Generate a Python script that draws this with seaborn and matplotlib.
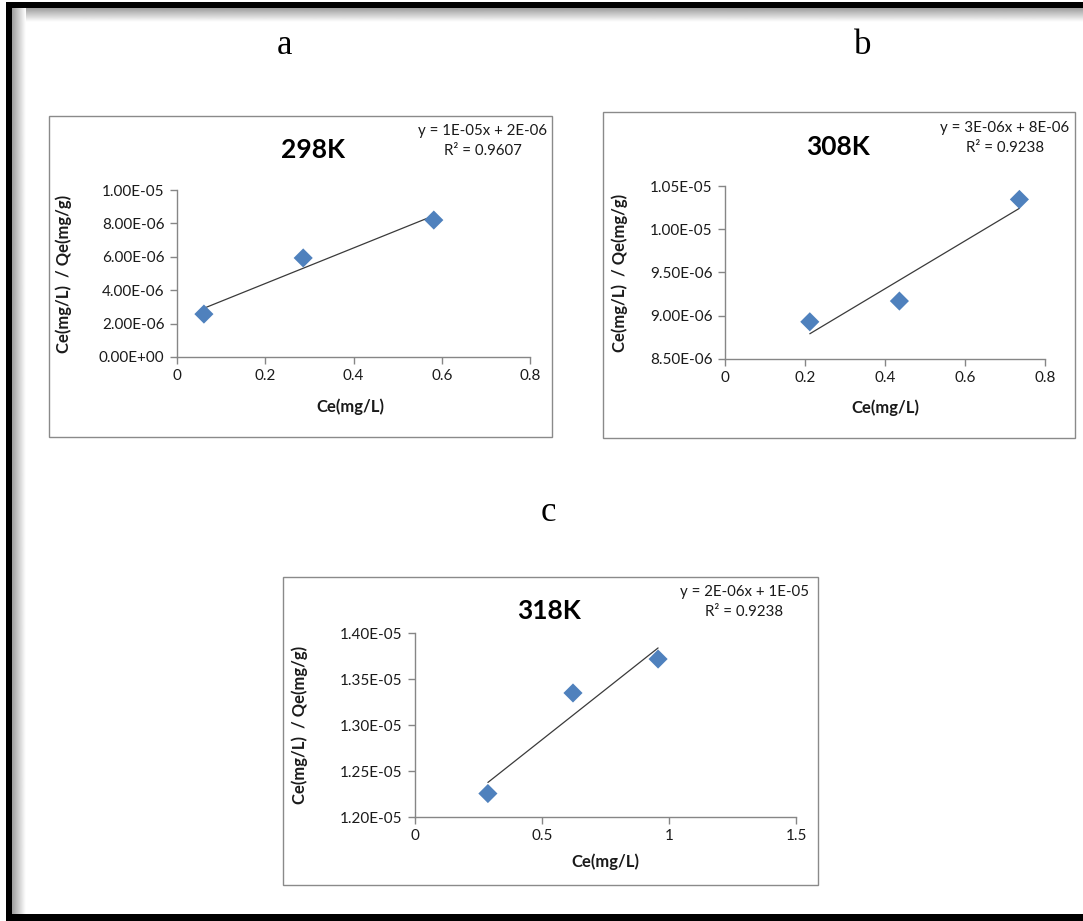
import numpy as np
import matplotlib
matplotlib.use("Agg")
import matplotlib.pyplot as plt
import seaborn as sns
from matplotlib.patches import Rectangle
from matplotlib.ticker import FuncFormatter, MultipleLocator

# Langmuir linearisation data at three temperatures
ce_298 = [0.061, 0.286, 0.582]
ratio_298 = [2.57e-6, 5.93e-6, 8.20e-6]

ce_308 = [0.212, 0.436, 0.736]
ratio_308 = [8.93e-6, 9.17e-6, 1.0345e-5]

ce_318 = [0.287, 0.622, 0.957]
ratio_318 = [1.2255e-5, 1.3348e-5, 1.3717e-5]

titles = ["298K", "308K", "318K"]
panel_letters = ["a", "b", "c"]
equations = ["y = 1E-05x + 2E-06", "y = 3E-06x + 8E-06", "y = 2E-06x + 1E-05"]
r_squared = ["R² = 0.9607", "R² = 0.9238", "R² = 0.9238"]
x_label = "Ce(mg/L)"
y_label = "Ce(mg/L)  / Qe(mg/g)"

W, H = 1083, 921
sns.set_theme(style="white")
plt.rcParams["font.family"] = ["Lato", "DejaVu Sans"]

fig = plt.figure(figsize=(W / 100, H / 100), dpi=100)
fig.patch.set_facecolor("white")


def px_axes(l, t, r, b, **kw):
    return fig.add_axes([l / W, 1 - b / H, (r - l) / W, (b - t) / H], **kw)


def ftext(x, y, s, **kw):
    return fig.text(x / W, 1 - y / H, s, **kw)


# page frame with soft inner shadow
bg = px_axes(0, 0, W, H, zorder=-5)
grad_top = np.linspace(0.62, 1.0, 40).reshape(-1, 1)
bg.imshow(grad_top, cmap="gray", vmin=0, vmax=1, extent=(12, W, 22, 8), aspect="auto")
grad_left = np.linspace(0.62, 1.0, 40).reshape(1, -1)
bg.imshow(grad_left, cmap="gray", vmin=0, vmax=1, extent=(12, 26, 914, 8), aspect="auto")
bg.add_patch(Rectangle((6, 2), W, 6, color="black", lw=0))
bg.add_patch(Rectangle((6, 2), 6, 919, color="black", lw=0))
bg.add_patch(Rectangle((6, 914), W, 8, color="black", lw=0))
bg.set_xlim(0, W)
bg.set_ylim(H, 0)
bg.axis("off")

panels = [
    dict(x=ce_298, y=ratio_298, box=(49, 116, 552, 437), ax=(177, 190, 530, 357),
         xlim=(0, 0.8), xstep=0.2, ylim=(0, 1.0e-5), ystep=2e-6,
         title_xy=(313, 150), eq_xy=(483, 130), xl_xy=(350, 407), yl_x=64,
         letter_xy=(285, 45)),
    dict(x=ce_308, y=ratio_308, box=(603, 112, 1075, 438), ax=(725, 186, 1045, 359),
         xlim=(0, 0.8), xstep=0.2, ylim=(8.5e-6, 1.05e-5), ystep=5e-7,
         title_xy=(838, 147), eq_xy=(1005, 127), xl_xy=(885, 408), yl_x=620,
         letter_xy=(863, 45)),
    dict(x=ce_318, y=ratio_318, box=(283, 577, 818, 885), ax=(415, 633, 796, 817),
         xlim=(0, 1.5), xstep=0.5, ylim=(1.2e-5, 1.4e-5), ystep=5e-7,
         title_xy=(549, 611), eq_xy=(744, 591), xl_xy=(605, 862), yl_x=300,
         letter_xy=(548, 512)),
]

text_col = "#1a1a1a"
axis_col = "#868686"

for i, p in enumerate(panels):
    l, t, r, b = p["box"]
    fig.patches.append(Rectangle((l / W, 1 - b / H), (r - l) / W, (b - t) / H,
                                 transform=fig.transFigure, fill=False,
                                 edgecolor="#8a8a8a", lw=1.0, zorder=0))
    al, at, ar, ab = p["ax"]
    ax = px_axes(al, at, ar, ab)
    ax.set_facecolor("none")

    sns.regplot(x=np.array(p["x"]), y=np.array(p["y"]), ax=ax, scatter=False, ci=None,
                truncate=True, line_kws=dict(color="#3a3a3a", lw=0.9))
    sns.scatterplot(x=p["x"], y=p["y"], ax=ax, marker="D", s=95, color="#4F81BD",
                    edgecolor="none", zorder=3)

    ax.set_xlim(*p["xlim"])
    ax.set_ylim(*p["ylim"])
    ax.xaxis.set_major_locator(MultipleLocator(p["xstep"]))
    ax.yaxis.set_major_locator(MultipleLocator(p["ystep"]))
    ax.xaxis.set_major_formatter(FuncFormatter(lambda v, _: f"{v:g}"))
    ax.yaxis.set_major_formatter(FuncFormatter(lambda v, _: f"{v:.2E}"))
    ax.set_xlabel("")
    ax.set_ylabel("")
    for s in ["top", "right"]:
        ax.spines[s].set_visible(False)
    for s in ["left", "bottom"]:
        ax.spines[s].set_color(axis_col)
        ax.spines[s].set_linewidth(1.0)
    ax.tick_params(axis="both", which="major", direction="out", length=5, width=1,
                   color=axis_col, labelsize=11, labelcolor=text_col, pad=4,
                   bottom=True, left=True)

    ftext(*p["title_xy"], titles[i], fontsize=19, fontweight="bold", color="black",
          ha="center", va="center")
    ftext(p["eq_xy"][0], p["eq_xy"][1] + 11, equations[i] + "\n" + r_squared[i],
          fontsize=10.8, color=text_col, ha="center", va="center",
          multialignment="center", linespacing=1.5)
    ftext(*p["xl_xy"], x_label, fontsize=12, fontweight="bold", color=text_col,
          ha="center", va="center")
    ftext(p["yl_x"], (at + ab) / 2, y_label, fontsize=12, fontweight="bold",
          color=text_col, ha="center", va="center", rotation=90)
    ftext(*p["letter_xy"], panel_letters[i], fontsize=25, color="black",
          family=["Liberation Serif", "DejaVu Serif"], ha="center", va="center")

fig.savefig("out.png", dpi=100, facecolor="white")
